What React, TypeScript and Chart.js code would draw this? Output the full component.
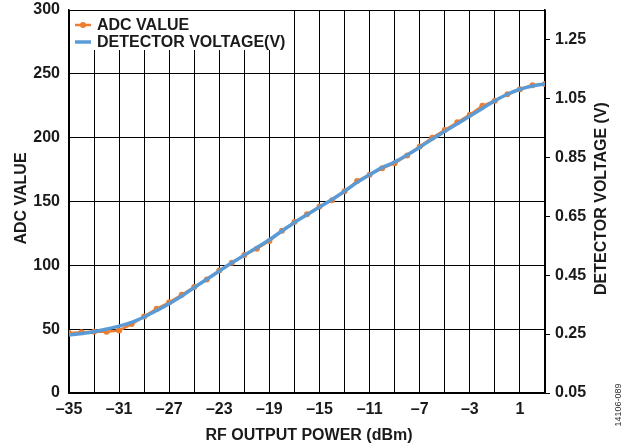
import React, { useEffect, useRef } from "react";
import { Chart, registerables } from "chart.js";

Chart.register(...registerables);

const rfPower = [-35, -34, -33, -32, -31, -30, -29, -28, -27, -26, -25, -24, -23, -22, -21, -20, -19, -18, -17, -16, -15, -14, -13, -12, -11, -10, -9, -8, -7, -6, -5, -4, -3, -2, -1, 0, 1, 2, 3];
const adcValue = [47, 47.5, 48, 48, 49, 54, 60, 66, 71, 77, 83, 89, 96, 102, 108, 113, 119, 127, 134, 140, 146, 151, 158, 166, 171, 176, 180, 186, 193, 200, 206, 212, 218, 225, 229, 234, 238, 241, 242];
const detectorVoltage = [0.247, 0.252, 0.258, 0.267, 0.277, 0.29, 0.308, 0.33, 0.353, 0.379, 0.408, 0.436, 0.464, 0.492, 0.518, 0.544, 0.57, 0.6, 0.629, 0.655, 0.681, 0.707, 0.735, 0.765, 0.791, 0.815, 0.834, 0.858, 0.884, 0.912, 0.938, 0.964, 0.99, 1.016, 1.042, 1.064, 1.081, 1.092, 1.099];
const voltageTicks = [0.05, 0.25, 0.45, 0.65, 0.85, 1.05, 1.25];

const legendLabels = ["ADC VALUE", "DETECTOR VOLTAGE(V)"];
const ORANGE = "#ED7D31";
const BLUE = "#5B9BD5";
const FONT = '"Liberation Sans", Arial, sans-serif';
const TEXT = "#1a1a1a";
const FS = 16;

const overlayPlugin = {
  id: "overlay",
  afterDraw(chart: any) {
    const ctx = chart.ctx;
    const a = chart.chartArea;
    ctx.save();
    ctx.fillStyle = "#fff";
    ctx.fillRect(a.left + 1, a.top + 1, 224, 39);
    const rows = [a.top + 15, a.top + 32];
    const colors = [ORANGE, BLUE];
    rows.forEach((y, i) => {
      ctx.strokeStyle = colors[i];
      ctx.lineWidth = i === 0 ? 2.5 : 3.5;
      ctx.beginPath();
      ctx.moveTo(a.left + 6, y);
      ctx.lineTo(a.left + 22, y);
      ctx.stroke();
      if (i === 0) {
        ctx.fillStyle = ORANGE;
        ctx.beginPath();
        ctx.arc(a.left + 14, y, 3, 0, Math.PI * 2);
        ctx.fill();
      }
      ctx.fillStyle = TEXT;
      ctx.font = `bold ${FS}px ${FONT}`;
      ctx.textAlign = "left";
      ctx.textBaseline = "middle";
      ctx.fillText(legendLabels[i], a.left + 28, y + 1);
    });
    ctx.fillStyle = TEXT;
    ctx.font = `bold ${FS}px ${FONT}`;
    ctx.textAlign = "center";
    ctx.textBaseline = "middle";
    ctx.fillText("RF OUTPUT POWER (dBm)", (a.left + a.right) / 2 + 2, 436);
    ctx.save();
    ctx.translate(22, (a.top + a.bottom) / 2 - 3);
    ctx.rotate(-Math.PI / 2);
    ctx.fillText("ADC VALUE", 0, 0);
    ctx.restore();
    ctx.save();
    ctx.translate(602, (a.top + a.bottom) / 2 - 3);
    ctx.rotate(-Math.PI / 2);
    ctx.fillText("DETECTOR VOLTAGE (V)", 0, 0);
    ctx.restore();
    ctx.save();
    ctx.translate(619, 405);
    ctx.rotate(-Math.PI / 2);
    ctx.font = `9px ${FONT}`;
    ctx.fillStyle = "#333";
    ctx.fillText("14106-089", 0, 0);
    ctx.restore();
    ctx.restore();
  },
};

export default function App() {
  const ref = useRef<HTMLCanvasElement | null>(null);
  useEffect(() => {
    if (!ref.current) return;
    const tickFont = { family: FONT, size: FS, weight: "bold" };
    const chart = new Chart(ref.current, {
      type: "line",
      data: {
        datasets: [
          {
            label: legendLabels[1],
            data: rfPower.map((x, i) => ({ x, y: detectorVoltage[i] })),
            borderColor: BLUE,
            backgroundColor: BLUE,
            borderWidth: 3.5,
            pointRadius: 0,
            cubicInterpolationMode: "monotone",
            yAxisID: "y1",
            order: 0,
          },
          {
            label: legendLabels[0],
            data: rfPower.map((x, i) => ({ x, y: adcValue[i] })),
            borderColor: ORANGE,
            backgroundColor: ORANGE,
            borderWidth: 2.5,
            pointRadius: 3,
            pointBorderWidth: 0,
            yAxisID: "y",
            order: 1,
          },
        ],
      },
      options: {
        responsive: false,
        animation: false,
        layout: { padding: { top: 10, left: 0, right: 0, bottom: 0 }, autoPadding: false },
        plugins: { legend: { display: false }, tooltip: { enabled: false } },
        scales: {
          x: {
            type: "linear",
            min: -35,
            max: 3,
            afterFit: (s: any) => { s.height = 53; s.paddingLeft = 0; s.paddingRight = 0; },
            ticks: {
              stepSize: 2,
              autoSkip: false,
              maxRotation: 0,
              padding: 7,
              color: TEXT,
              font: tickFont,
              callback: (v: any) => {
                const n = Number(v);
                if ((n + 35) % 4 !== 0) return "";
                return n < 0 ? "\u2013" + Math.abs(n) : String(n);
              },
            },
            grid: { color: "#000", lineWidth: 1, drawTicks: false },
            border: { color: "#000", width: 1.5 },
          },
          y: {
            position: "left",
            min: 0,
            max: 300,
            afterFit: (s: any) => { s.width = 69; s.paddingTop = 0; s.paddingBottom = 0; },
            ticks: { stepSize: 50, padding: 9, color: TEXT, font: tickFont },
            grid: { color: "#000", lineWidth: 1, drawTicks: false },
            border: { color: "#000", width: 1.5 },
          },
          y1: {
            position: "right",
            min: 0.05,
            max: 1.35,
            afterFit: (s: any) => { s.width = 81; s.paddingTop = 0; s.paddingBottom = 0; },
            afterBuildTicks: (s: any) => { s.ticks = voltageTicks.map((value) => ({ value })); },
            ticks: {
              padding: 5,
              color: TEXT,
              font: tickFont,
              callback: (v: any) => Number(v).toFixed(2),
            },
            grid: { drawOnChartArea: false, drawTicks: true, tickLength: 5, color: "#000" },
            border: { color: "#000", width: 1.5 },
          },
        },
      },
      plugins: [overlayPlugin],
    } as any);
    return () => chart.destroy();
  }, []);
  return (
    <canvas
      ref={ref}
      width={626}
      height={446}
      style={{ position: "absolute", left: 0, top: 0, width: 626, height: 446, background: "#fff" }}
    />
  );
}
